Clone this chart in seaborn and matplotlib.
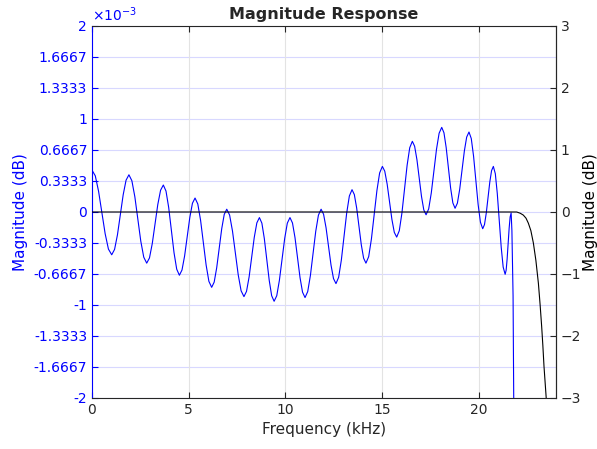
import numpy as np
import pandas as pd
import seaborn as sns
import matplotlib
matplotlib.use("Agg")
import matplotlib.pyplot as plt

# ripple of the filter (left axis, in units of 1e-3 dB)
ripple_f = [0.00, 0.17, 0.34, 0.51, 0.68, 0.85,
            1.02, 1.168, 1.317, 1.465, 1.613, 1.762,
            1.91, 2.063, 2.217, 2.37, 2.523, 2.677,
            2.83, 2.973, 3.117, 3.26, 3.403, 3.547,
            3.69, 3.828, 3.967, 4.105, 4.243, 4.382,
            4.52, 4.655, 4.79, 4.925, 5.06, 5.195,
            5.33, 5.473, 5.617, 5.76, 5.903, 6.047,
            6.19, 6.32, 6.45, 6.58, 6.71, 6.84,
            6.97, 7.118, 7.267, 7.415, 7.563, 7.712,
            7.86, 7.993, 8.127, 8.26, 8.393, 8.527,
            8.66, 8.787, 8.913, 9.04, 9.167, 9.293,
            9.42, 9.557, 9.693, 9.83, 9.967, 10.103,
            10.24, 10.37, 10.50, 10.63, 10.76, 10.89,
            11.02, 11.158, 11.297, 11.435, 11.573, 11.712,
            11.85, 11.978, 12.107, 12.235, 12.363, 12.492,
            12.62, 12.758, 12.897, 13.035, 13.173, 13.312,
            13.45, 13.57, 13.69, 13.81, 13.93, 14.05,
            14.17, 14.312, 14.453, 14.595, 14.737, 14.878,
            15.02, 15.143, 15.267, 15.39, 15.513, 15.637,
            15.76, 15.895, 16.03, 16.165, 16.30, 16.435,
            16.57, 16.688, 16.807, 16.925, 17.043, 17.162,
            17.28, 17.415, 17.55, 17.685, 17.82, 17.955,
            18.09, 18.205, 18.32, 18.435, 18.55, 18.665,
            18.78, 18.90, 19.02, 19.14, 19.26, 19.38,
            19.50, 19.618, 19.737, 19.855, 19.973, 20.092,
            20.21, 20.302, 20.393, 20.485, 20.577, 20.668,
            20.76, 20.862, 20.963, 21.065, 21.167, 21.268,
            21.37, 21.422, 21.473, 21.525, 21.577, 21.628,
            21.68, 21.72, 21.78, 21.82, 21.86]
ripple_db = [0.45, 0.389, 0.223, -0.005, -0.233, -0.399,
             -0.46, -0.402, -0.245, -0.03, 0.185, 0.342,
             0.40, 0.336, 0.163, -0.075, -0.313, -0.486,
             -0.55, -0.494, -0.34, -0.13, 0.08, 0.234,
             0.29, 0.225, 0.048, -0.195, -0.438, -0.615,
             -0.68, -0.624, -0.473, -0.265, -0.058, 0.094,
             0.15, 0.086, -0.09, -0.33, -0.57, -0.746,
             -0.81, -0.754, -0.60, -0.39, -0.18, -0.026,
             0.03, -0.033, -0.205, -0.44, -0.675, -0.847,
             -0.91, -0.853, -0.698, -0.485, -0.273, -0.117,
             -0.06, -0.12, -0.285, -0.51, -0.735, -0.90,
             -0.96, -0.90, -0.735, -0.51, -0.285, -0.12,
             -0.06, -0.118, -0.275, -0.49, -0.705, -0.862,
             -0.92, -0.856, -0.683, -0.445, -0.208, -0.034,
             0.03, -0.024, -0.17, -0.37, -0.57, -0.716,
             -0.77, -0.702, -0.518, -0.265, -0.013, 0.172,
             0.24, 0.187, 0.043, -0.155, -0.353, -0.497,
             -0.55, -0.48, -0.29, -0.03, 0.23, 0.42,
             0.49, 0.439, 0.30, 0.11, -0.08, -0.219,
             -0.27, -0.201, -0.013, 0.245, 0.503, 0.691,
             0.76, 0.707, 0.563, 0.365, 0.168, 0.023,
             -0.03, 0.033, 0.205, 0.44, 0.675, 0.847,
             0.91, 0.852, 0.693, 0.475, 0.258, 0.098,
             0.04, 0.095, 0.245, 0.45, 0.655, 0.805,
             0.86, 0.79, 0.60, 0.34, 0.08, -0.11,
             -0.18, -0.135, -0.013, 0.155, 0.323, 0.445,
             0.49, 0.412, 0.20, -0.09, -0.38, -0.592,
             -0.67, -0.626, -0.505, -0.34, -0.175, -0.054,
             -0.01, -0.2, -0.9, -2.2, -3.0]

# overall magnitude (right axis, dB)
mag_f = [0.0, 21.0, 21.8, 21.97, 22.15, 22.31, 22.45, 22.57, 22.7, 22.83,
         22.96, 23.09, 23.18, 23.26, 23.32, 23.38, 23.49, 23.55]
mag_db = [0.0, 0.0, 0.0, 0.0, -0.02, -0.05, -0.1, -0.18, -0.3, -0.5,
          -0.78, -1.15, -1.5, -1.85, -2.15, -2.49, -2.98, -3.3]

left_ticks = [2, 5/3, 4/3, 1, 2/3, 1/3, 0, -1/3, -2/3, -1, -4/3, -5/3, -2]
right_ticks = [-3, -2, -1, 0, 1, 2, 3]
x_ticks = [0, 5, 10, 15, 20]

df_r = pd.DataFrame({"f": ripple_f, "db": ripple_db})
df_m = pd.DataFrame({"f": mag_f, "db": mag_db})

sns.set_style("white")
plt.rcParams["font.family"] = ["DejaVu Sans"]
plt.rcParams["font.size"] = 10

fig = plt.figure(figsize=(5.97, 4.49), dpi=100)
ax = fig.add_axes([0.1541, 0.1136, 0.7772, 0.8285])
ax2 = ax.twinx()

sns.lineplot(data=df_r, x="f", y="db", ax=ax, color=(0, 0, 1), lw=0.8,
             sort=False, estimator=None)
sns.lineplot(data=df_m, x="f", y="db", ax=ax2, color="black", lw=0.8,
             sort=False, estimator=None)

ax.set_xlim(0, 24)
ax.set_ylim(-2, 2)
ax2.set_ylim(-3, 3)

ax.set_xticks(x_ticks)
ax.set_yticks(left_ticks)
ax.set_yticklabels(["%g" % round(v, 4) for v in left_ticks])
ax2.set_yticks(right_ticks)

ax.grid(False)
for v in left_ticks:
    ax.axhline(v, color="#d8d8ff", lw=0.8, zorder=0)
for v in x_ticks:
    ax.axvline(v, color="#e3e3e3", lw=0.8, zorder=0)

blue = (0, 0, 1)
dark = "#262626"
ax.tick_params(axis="y", direction="in", length=4, colors=blue, labelcolor=blue, left=True)
ax.tick_params(axis="x", direction="in", length=4, top=True, bottom=True,
               color=dark, labelcolor="#262626")
ax2.tick_params(axis="y", direction="in", length=4, right=True, color=dark, labelcolor="#262626")

ax.spines["left"].set_color(blue)
for s in ["top", "bottom"]:
    ax.spines[s].set_color(dark)
ax2.spines["right"].set_color(dark)
ax2.spines["left"].set_visible(False)
ax2.spines["top"].set_visible(False)
ax2.spines["bottom"].set_visible(False)
for a in (ax, ax2):
    for s in a.spines.values():
        s.set_linewidth(0.8)

ax.set_xlabel("Frequency (kHz)", color="#262626", fontsize=11)
ax.set_ylabel("Magnitude (dB)", color=blue, fontsize=11)
ax2.set_ylabel("Magnitude (dB)", color="black", fontsize=11, labelpad=1)
ax.set_title("Magnitude Response", fontweight="bold", fontsize=11.5, pad=5)

ax.text(0.0, 1.005, r"$\times10^{-3}$", transform=ax.transAxes, color=blue,
        fontsize=10, ha="left", va="bottom")

fig.savefig("out.png", dpi=100)
